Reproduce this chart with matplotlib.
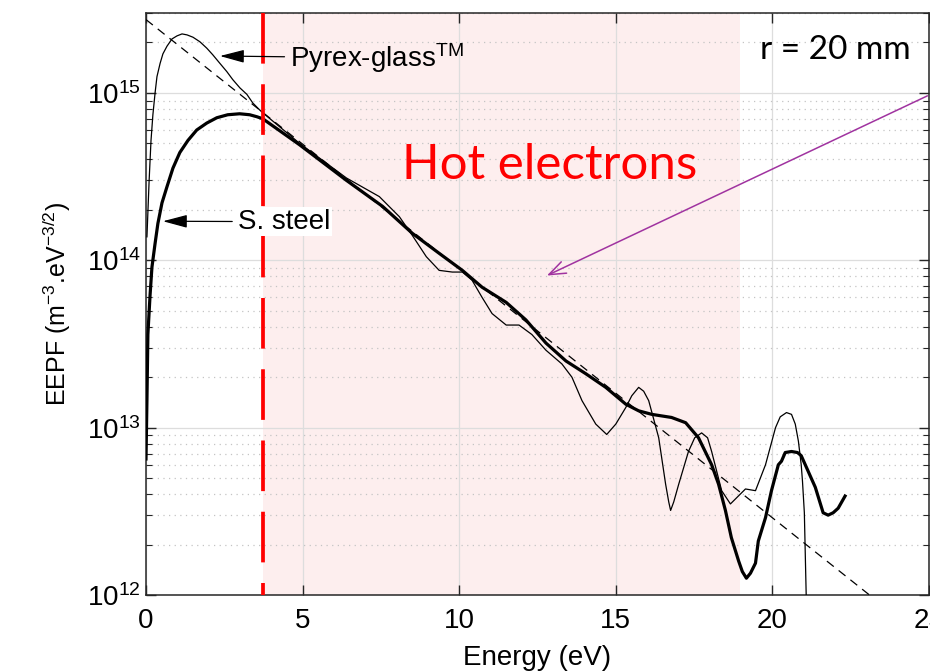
import numpy as np
import matplotlib.pyplot as plt
from matplotlib.ticker import LogLocator, NullFormatter

plt.rcParams['font.family'] = ['Liberation Sans', 'DejaVu Sans']
plt.rcParams['mathtext.fontset'] = 'custom'
plt.rcParams['mathtext.rm'] = 'Liberation Sans'
plt.rcParams['mathtext.default'] = 'regular'

# EEPF measured against the Pyrex-glass wall (thin line)
pyrex_energy = [0.03, 0.10, 0.16, 0.22, 0.29, 0.35, 0.45, 0.54, 0.67, 0.83,
                0.99, 1.15, 1.31, 1.50, 1.72, 1.94, 2.13, 2.36, 2.58, 2.77,
                3.00, 3.22, 3.41, 3.63, 3.73, 4.90, 6.40, 7.45, 8.09, 8.50,
                8.95, 9.36, 9.78, 10.10, 10.41, 10.73, 11.05, 11.50, 11.91, 12.32,
                12.77, 13.28, 13.60, 13.92, 14.36, 14.71, 15.00, 15.32, 15.51, 15.73,
                15.89, 16.05, 16.37, 16.59, 16.69, 16.75, 16.85, 17.01, 17.32, 17.52,
                17.74, 17.93, 18.06, 18.38, 18.66, 19.14, 19.46, 19.78, 20.10, 20.25,
                20.45, 20.61, 20.73, 20.83, 20.92, 20.96, 21.02, 21.08, 21.12]
pyrex_eepf = [1.38e14, 3.0e14, 5.2e14, 7.4e14, 1.0e15, 1.25e15, 1.5e15, 1.71e15, 1.9e15, 2.1e15,
              2.19e15, 2.25e15, 2.22e15, 2.15e15, 2.02e15, 1.85e15, 1.69e15, 1.5e15, 1.34e15, 1.2e15,
              1.07e15, 9.8e14, 8.7e14, 7.9e14, 7.6e14, 5.0e14, 3.1e14, 2.4e14, 1.82e14, 1.41e14,
              1.05e14, 8.7e13, 8.5e13, 8.5e13, 7.6e13, 6.0e13, 4.8e13, 4.1e13, 4.1e13, 3.6e13,
              2.9e13, 2.4e13, 2.0e13, 1.45e13, 1.05e13, 9.1e12, 1.05e13, 1.32e13, 1.55e13, 1.74e13,
              1.65e13, 1.45e13, 8.7e12, 4.6e12, 3.6e12, 3.2e12, 3.6e12, 4.6e12, 7.2e12, 8.7e12,
              9.3e12, 8.7e12, 7.2e12, 4.2e12, 3.5e12, 4.3e12, 4.2e12, 6.0e12, 1.0e13, 1.16e13,
              1.23e13, 1.2e13, 1.05e13, 8.3e12, 6.0e12, 4.8e12, 3.1e12, 9.8e11, 1e11]

# EEPF measured against the stainless steel wall (thick line)
steel_energy = [0.0, 0.03, 0.06, 0.13, 0.19, 0.29, 0.38, 0.51, 0.67, 0.86,
                1.08, 1.34, 1.62, 1.94, 2.26, 2.61, 2.99, 3.31, 3.54, 3.73,
                4.90, 6.40, 7.55, 8.50, 9.36, 10.10, 10.73, 11.50, 12.13, 12.77,
                13.41, 14.04, 14.68, 15.32, 15.73, 16.15, 16.78, 17.23, 17.64, 18.06,
                18.28, 18.50, 18.69, 18.92, 19.04, 19.17, 19.30, 19.46, 19.55, 19.78,
                19.97, 20.19, 20.29, 20.41, 20.61, 20.80, 20.92, 21.37, 21.62, 21.78,
                21.94, 22.10, 22.32]
steel_eepf = [6.5e12, 1.45e13, 3.6e13, 6.2e13, 9.1e13, 1.26e14, 1.66e14, 2.2e14, 2.75e14, 3.55e14,
              4.4e14, 5.2e14, 6.0e14, 6.6e14, 7.1e14, 7.4e14, 7.5e14, 7.4e14, 7.2e14, 7.0e14,
              4.9e14, 3.0e14, 2.1e14, 1.45e14, 1.10e14, 8.7e13, 6.9e13, 5.6e13, 4.4e13, 3.2e13,
              2.5e13, 2.1e13, 1.74e13, 1.38e13, 1.26e13, 1.2e13, 1.15e13, 1.07e13, 8.7e12, 6.0e12,
              4.6e12, 3.2e12, 2.2e12, 1.6e12, 1.38e12, 1.26e12, 1.35e12, 1.55e12, 2.1e12, 2.9e12,
              4.2e12, 6.0e12, 6.3e12, 7.1e12, 7.2e12, 7.1e12, 6.8e12, 4.4e12, 3.1e12, 3.0e12,
              3.1e12, 3.3e12, 3.9e12]

# Maxwellian fit (straight line on the log axis)
fit_energy = [0.0, 23.1]
fit_eepf = [2.74e15, 1e12]

# hot electron window
hot_start = 3.72
hot_end = 18.95

fig = plt.figure(figsize=(9.3, 6.71), dpi=100)
ax = fig.add_axes([146 / 930, 1 - 595 / 671, 783 / 930, 582 / 671])

ax.set_yscale('log')
ax.set_xlim(0, 25)
ax.set_ylim(1e12, 3e15)

ax.axvspan(hot_start, hot_end, color='#fdeeee', lw=0, zorder=0)

ax.grid(True, which='major', color='#dddddd', lw=0.9, ls='-', zorder=1)
ax.grid(True, which='minor', axis='y', color='#c4c4c4', lw=0.9, ls=(0, (1, 3.5)), zorder=1)
ax.set_axisbelow(True)

ax.set_xticks([0, 5, 10, 15, 20, 25])
ax.yaxis.set_major_locator(LogLocator(base=10, numticks=10))
ax.yaxis.set_minor_locator(LogLocator(base=10, subs=np.arange(2, 10), numticks=20))
ax.yaxis.set_minor_formatter(NullFormatter())
ax.tick_params(which='both', direction='in', top=True, right=True,
               labelsize=20, colors='#262626', labelcolor='black')
ax.tick_params(which='major', length=7, width=1)
ax.tick_params(which='minor', length=4, width=0.8)
ax.tick_params(axis='x', pad=9)
for sp in ax.spines.values():
    sp.set_linewidth(1.1)
    sp.set_color('#262626')

ax.plot(fit_energy, fit_eepf, color='black', lw=0.9, ls=(0, (7, 5)), zorder=3)
ax.plot(pyrex_energy, pyrex_eepf, color='black', lw=0.9, zorder=4)
ax.plot(steel_energy, steel_eepf, color='black', lw=2.3, zorder=4)

ax.plot([hot_start, hot_start], [3e15, 1e12], color='red', lw=2.7,
        dashes=(13.5, 5.5), zorder=5)

ax.set_xlabel('Energy (eV)', fontsize=20, labelpad=8)
ax.set_ylabel('EEPF (m$^{-3}$.eV$^{-3/2}$)', fontsize=18, labelpad=10)

ax.annotate('Pyrex-glass$^{TM}$', xy=(2.36, 1.66e15), xytext=(4.6, 1.62e15),
            fontsize=20, va='center', ha='left', zorder=6,
            arrowprops=dict(arrowstyle='-|>,head_length=0.75,head_width=0.2',
                            color='black', lw=0.9, shrinkA=2, shrinkB=0))
ax.annotate('S. steel', xy=(0.54, 1.71e14), xytext=(2.93, 1.70e14),
            fontsize=20, va='center', ha='left', zorder=6,
            bbox=dict(boxstyle='square,pad=0.05', fc='white', ec='none'),
            arrowprops=dict(arrowstyle='-|>,head_length=0.75,head_width=0.2',
                            color='black', lw=0.9, shrinkA=3, shrinkB=0))

ax.annotate('', xy=(12.8, 8.1e13), xytext=(24.95, 9.6e14),
            arrowprops=dict(arrowstyle='->,head_length=1.2,head_width=0.45',
                            color='#a033a0', lw=1.1, shrinkA=0, shrinkB=0),
            zorder=6, annotation_clip=False)

ax.text(12.9, 3.7e14, 'Hot electrons', color='red', fontsize=35.5,
        family=['Lato', 'DejaVu Sans'], ha='center', va='center', zorder=6)
ax.text(24.4, 1.8e15, 'r = 20 mm', color='black', fontsize=24,
        family=['Lato', 'DejaVu Sans'], ha='right', va='center', zorder=6)

fig.savefig('out.png', dpi=100)
